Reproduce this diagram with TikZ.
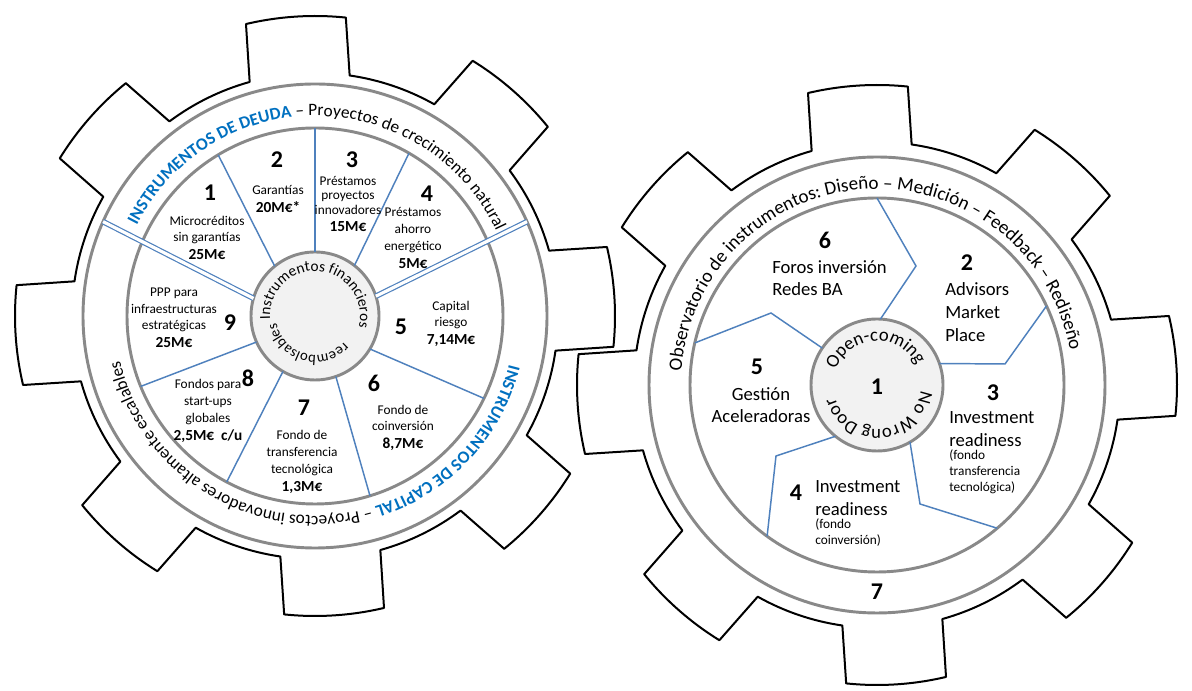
\documentclass[tikz,border=0pt]{standalone}
\usepackage{fontspec}
\setmainfont{Carlito}
\usepackage{xcolor}
\usetikzlibrary{decorations.text}
\definecolor{ringgray}{HTML}{898989}
\definecolor{hubgray}{HTML}{F2F2F2}
\definecolor{lineblue}{HTML}{4F81BD}
\definecolor{titleblue}{HTML}{0070C0}
\newcommand\valfont{\fontsize{11.5}{13}\selectfont\bfseries}
\newcommand\ringfont{\fontsize{13}{15}\selectfont}
\newcommand\hubfont{\fontsize{11.5}{14}\selectfont}

\begin{document}
\begin{tikzpicture}[
    x=0.75pt, y=0.75pt,
    gear/.style={draw=black, line width=1.5pt, fill=white, line join=round},
    ring/.style={circle, draw=ringgray, line width=2.2pt, inner sep=0pt, outer sep=0pt},
    hub/.style={ring, fill=hubgray},
    divider/.style={draw=lineblue, line width=1.1pt},
    twin/.style={draw=lineblue, line width=0.9pt, double=white, double distance=2.4pt},
    num/.style={font=\fontsize{18}{20}\selectfont\bfseries, inner sep=0pt},
    small/.style={font=\fontsize{10}{12.5}\selectfont, align=center, inner sep=0pt},
    big/.style={font=\fontsize{14}{17}\selectfont, align=left, inner sep=0pt},
    note/.style={font=\fontsize{10}{12}\selectfont, align=left, inner sep=0pt, anchor=north west},
    ringtext/.style={decorate, decoration={text along path, text align=center, text={#1}}}
]
\useasboundingbox (0,0) rectangle (1192,691);
\fill[white] (0,0) rectangle (1192,691);

% left gear: financial instruments
\begin{scope}[shift={(315,375)}]
  \draw[gear] (-8.2:243) \foreach \a in {3.7,48.7,...,318.7}{
      -- (\a-9.6:300) arc[start angle=\a-9.6, end angle=\a+9.6, radius=300]
      -- (\a+11.9:243) arc[start angle=\a+11.9, end angle=\a+33.1, radius=243]} -- cycle;
  \node[ring, minimum size=348pt] (outerL) at (0,0) {};
  \node[ring, minimum size=282pt] (innerL) at (0,0) {};
  \node[hub, minimum size=96pt] (hubL) at (0,0) {};

  \draw[divider] (hubL.129) -- (innerL.121);
  \draw[divider] (hubL.90) -- (innerL.90);
  \draw[divider] (hubL.52) -- (innerL.60);
  \draw[divider] (hubL.329) -- (innerL.334);
  \draw[divider] (hubL.289) -- (innerL.287);
  \draw[divider] (hubL.240) -- (innerL.242);
  \draw[divider] (hubL.204) -- (innerL.202);
  \draw[twin] (hubL.164) -- (outerL.156);
  \draw[twin] (hubL.18) -- (outerL.24);

  \path[ringtext={|\color{titleblue}\bfseries\ringfont|INSTRUMENTOS DE DEUDA|\color{black}\mdseries\ringfont| – Proyectos de crecimiento natural}]
    (163:200) arc[start angle=163, end angle=15, radius=200];
  \path[ringtext={|\color{titleblue}\bfseries\ringfont|INSTRUMENTOS DE CAPITAL|\color{black}\mdseries\ringfont| – Proyectos innovadores altamente escalables}]
    (-5:200) arc[start angle=-5, end angle=-176, radius=200];
  \path[ringtext={|\hubfont|Instrumentos financieros}]
    (198:45) arc[start angle=198, end angle=-28, radius=45];
  \path[ringtext={|\fontsize{11}{13}\selectfont|reembolsables}]
    (-21:39) arc[start angle=-21, end angle=-191, radius=39];

  \node[num] (n1) at (-105,123) {1};
  \node[small] (t1) at (-108,78) {Microcréditos\\sin garantías\\[1pt]{\valfont 25M€}};
  \node[num] (n2) at (-38,156) {2};
  \node[small] (t2) at (-37,117) {Garantías\\[1pt]{\valfont 20M€*}};
  \node[num] (n3) at (37,156) {3};
  \node[small, font=\fontsize{10}{10.8}\selectfont] (t3) at (33,112) {Préstamos\\proyectos\\innovadores\\[2pt]{\valfont 15M€}};
  \node[num] (n4) at (112,122) {4};
  \node[small] (t4) at (98,78) {Préstamos\\ahorro\\energético\\[1pt]{\valfont 5M€}};
  \node[num] (n5) at (86,-11) {5};
  \node[small] (t5) at (136,-8) {Capital\\riesgo\\[1pt]{\valfont 7,14M€}};
  \node[num] (n6) at (59,-67) {6};
  \node[small] (t6) at (88,-112) {Fondo de\\coinversión\\[1pt]{\valfont 8,7M€}};
  \node[num] (n7) at (-11,-92) {7};
  \node[small] (t7) at (-13,-146) {Fondo de\\transferencia\\tecnológica\\[1pt]{\valfont 1,3M€}};
  \node[num] (n8) at (-67,-62) {8};
  \node[small] (t8) at (-107,-95) {Fondos para\\start-ups\\globales\\[1pt]{\valfont 2,5M€\ \ c/u}};
  \node[num] (n9) at (-85,-7) {9};
  \node[small] (t9) at (-141,-2) {PPP para\\infraestructuras\\estratégicas\\[1pt]{\valfont 25M€}};
\end{scope}

% right gear: support services
\begin{scope}[shift={(877,306)}]
  \draw[gear] (-8.2:243) \foreach \a in {3.7,48.7,...,318.7}{
      -- (\a-9.6:300) arc[start angle=\a-9.6, end angle=\a+9.6, radius=300]
      -- (\a+11.9:243) arc[start angle=\a+11.9, end angle=\a+33.1, radius=243]} -- cycle;
  \node[ring, minimum size=342pt] (outerR) at (0,0) {};
  \node[ring, minimum size=280.5pt] (innerR) at (0,0) {};
  \node[hub, minimum size=99pt] (hubR) at (0,0) {};

  \coordinate (k1) at (39,119);
  \coordinate (k2) at (128,21);
  \coordinate (k3) at (43,-119);
  \coordinate (k4) at (-101,-71);
  \coordinate (k5) at (-106,72);
  \draw[divider] (hubR.87) -- (k1) -- (innerR.90);
  \draw[divider] (hubR.19) -- (k2) -- (innerR.25);
  \draw[divider] (hubR.300) -- (k3) -- (innerR.310);
  \draw[divider] (hubR.231) -- (k4) -- (innerR.234);
  \draw[divider] (hubR.146) -- (k5) -- (innerR.167);

  \path[ringtext={|\fontsize{14.3}{16}\selectfont|Observatorio de instrumentos: Diseño – Medición – Feedback – Rediseño}]
    (185:196) arc[start angle=185, end angle=1, radius=196];
  \path[ringtext={|\fontsize{14}{16}\selectfont|Open-coming}]
    (183:44) arc[start angle=183, end angle=3, radius=44];
  \path[ringtext={|\fontsize{14}{16}\selectfont|No Wrong Door}]
    (5:44) arc[start angle=5, end angle=-176, radius=44];

  \node[num] (m1) at (0,-2) {1};
  \node[num] (m2) at (90,122) {2};
  \node[big, anchor=west] (s2) at (68,73) {Advisors\\Market\\Place};
  \node[num] (m3) at (116,-8) {3};
  \node[big, anchor=west] (s3) at (72,-44) {Investment\\readiness};
  \node[note] (s3n) at ([yshift=-2pt]s3.south west) {(fondo\\transferencia\\tecnológica)};
  \node[num] (m4) at (-81,-108) {4};
  \node[big, anchor=west] (s4) at (-62,-113) {Investment\\readiness};
  \node[note] (s4n) at ([yshift=-2pt]s4.south west) {(fondo\\coinversión)};
  \node[num] (m5) at (-120,18) {5};
  \node[big, align=center] (s5) at (-116,-20) {Gestión\\Aceleradoras};
  \node[num] (m6) at (-52,145) {6};
  \node[big, anchor=west] (s6) at (-105,107) {Foros inversión\\Redes BA};
  \node[num] (m7) at (0,-207) {7};
\end{scope}
\end{tikzpicture}
\end{document}
